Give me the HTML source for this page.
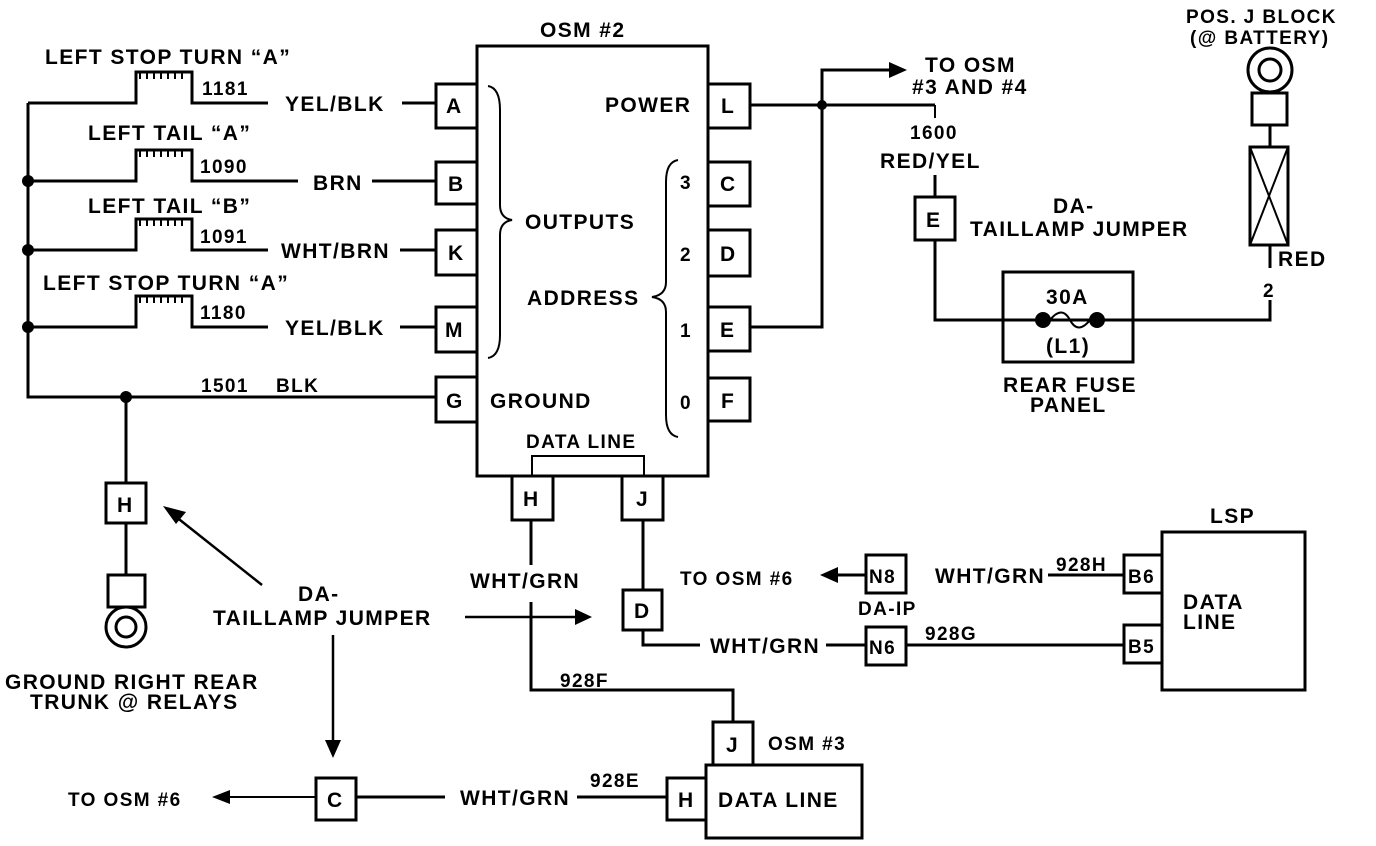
<!DOCTYPE html>
<html><head><style>
html,body{margin:0;padding:0;background:#fff;}
svg{display:block;}
text{font-family:"Liberation Sans",sans-serif;font-weight:bold;fill:#000;font-size:21px;letter-spacing:1.4px;}
.s{font-size:19px;letter-spacing:1.4px;}
</style></head><body>
<svg width="1376" height="846" viewBox="0 0 1376 846" xmlns="http://www.w3.org/2000/svg">
<g fill="none" stroke="#000" stroke-width="3">
<rect x="477" y="46" width="231" height="430"/>
<rect x="436" y="84" width="41" height="44"/>
<rect x="436" y="162" width="41" height="42"/>
<rect x="436" y="230" width="41" height="45"/>
<rect x="436" y="307" width="41" height="45"/>
<rect x="436" y="377" width="41" height="45"/>
<rect x="708" y="84" width="42" height="44"/>
<rect x="708" y="162" width="42" height="44"/>
<rect x="708" y="230" width="42" height="46"/>
<rect x="708" y="307" width="42" height="44"/>
<rect x="708" y="378" width="42" height="43"/>
<rect x="512" y="476" width="41" height="44"/>
<rect x="622" y="476" width="41" height="44"/>
<polyline points="532,476 532,456 644,456 644,476" stroke-width="2"/>
<path d="M488,86 Q500,88 500,110 L500,205 Q500,218 512,220 Q500,222 500,235 L500,335 Q500,356 488,358" stroke-width="2"/>
<path d="M678,160 Q666,162 666,182 L666,282 Q666,295 652,297 Q666,299 666,312 L666,415 Q666,435 678,437" stroke-width="2"/>
<polyline points="28,103 28,397 436,397"/>
<polyline points="28,103 136,103 136,72 192,72 192,103 268,103"/>
<line x1="402" y1="103" x2="436" y2="103"/>
<polyline points="28,181 136,181 136,150 192,150 192,181 298,181"/>
<line x1="372" y1="181" x2="436" y2="181"/>
<polyline points="28,250 136,250 136,219 192,219 192,250 268,250"/>
<line x1="400" y1="250" x2="436" y2="250"/>
<polyline points="28,327 136,327 136,296 192,296 192,327 268,327"/>
<line x1="400" y1="327" x2="436" y2="327"/>
</g>
<g fill="none" stroke="#000" stroke-width="2">
<path d="M140,72 v7 M147,72 v7 M154,72 v7 M161,72 v7 M168,72 v7 M175,72 v7 M182,72 v7"/>
<path d="M140,150 v7 M147,150 v7 M154,150 v7 M161,150 v7 M168,150 v7 M175,150 v7 M182,150 v7"/>
<path d="M140,219 v7 M147,219 v7 M154,219 v7 M161,219 v7 M168,219 v7 M175,219 v7 M182,219 v7"/>
<path d="M140,296 v7 M147,296 v7 M154,296 v7 M161,296 v7 M168,296 v7 M175,296 v7 M182,296 v7"/>
</g>
<g fill="#000">
<circle cx="28" cy="181" r="6"/><circle cx="28" cy="250" r="6"/><circle cx="28" cy="327" r="6"/>
<circle cx="126" cy="397" r="6"/><circle cx="822" cy="105" r="5"/>
<circle cx="1043" cy="320" r="8"/><circle cx="1097" cy="320" r="8"/>
</g>
<g fill="none" stroke="#000" stroke-width="3">
<line x1="126" y1="397" x2="126" y2="483"/>
<rect x="106" y="483" width="40" height="40"/>
<line x1="126" y1="523" x2="126" y2="575"/>
<rect x="108" y="575" width="37" height="32"/>
<circle cx="126" cy="627" r="20"/>
<circle cx="126" cy="627" r="10"/>
<line x1="262" y1="585" x2="175" y2="516" stroke-width="2.5"/>
<line x1="465" y1="617" x2="575" y2="617" stroke-width="2.5"/>
<line x1="333" y1="635" x2="333" y2="742" stroke-width="2.5"/>
<rect x="316" y="778" width="40" height="42"/>
<line x1="228" y1="797" x2="316" y2="797" stroke-width="2"/>
<line x1="356" y1="797" x2="445" y2="797"/>
<line x1="577" y1="797" x2="667" y2="797"/>
<rect x="667" y="778" width="39" height="42"/>
<rect x="706" y="765" width="156" height="73"/>
<rect x="713" y="722" width="40" height="43"/>
<polyline points="733,722 733,690 531,690 531,602"/>
<line x1="531" y1="520" x2="531" y2="565"/>
<line x1="643" y1="520" x2="643" y2="590"/>
<rect x="623" y="590" width="39" height="40"/>
<polyline points="643,630 643,645 700,645"/>
<line x1="826" y1="645" x2="866" y2="645"/>
<rect x="866" y="627" width="40" height="38"/>
<line x1="906" y1="645" x2="1124" y2="645"/>
<rect x="1124" y="625" width="38" height="38"/>
<rect x="1124" y="555" width="38" height="38"/>
<rect x="1162" y="532" width="143" height="158"/>
<line x1="1048" y1="575" x2="1124" y2="575"/>
<rect x="866" y="555" width="40" height="38"/>
<line x1="838" y1="575" x2="866" y2="575"/>
<line x1="750" y1="105" x2="935" y2="105"/>
<line x1="935" y1="105" x2="935" y2="118" stroke-width="2"/>
<polyline points="750,327 822,327 822,70 890,70"/>
<line x1="935" y1="175" x2="935" y2="197"/>
<rect x="915" y="197" width="40" height="43"/>
<polyline points="935,240 935,320 1270,320 1270,300"/>
<rect x="1003" y="272" width="130" height="90"/>
<path d="M1050,320 Q1062,305 1070,320 Q1078,335 1090,320" stroke-width="2"/>
<line x1="1270" y1="268" x2="1270" y2="245"/>
<rect x="1250" y="147" width="38" height="98"/>
<line x1="1250" y1="147" x2="1288" y2="245" stroke-width="2"/>
<line x1="1288" y1="147" x2="1250" y2="245" stroke-width="2"/>
<line x1="1270" y1="147" x2="1270" y2="125"/>
<rect x="1252" y="93" width="35" height="32"/>
<circle cx="1270" cy="70" r="22"/>
<circle cx="1270" cy="70" r="11"/>
</g>
<g fill="#000">
<polygon points="163,506 186,512 176,524"/>
<polygon points="592,617 575,609 575,625"/>
<polygon points="333,758 325,740 341,740"/>
<polygon points="212,797 230,790 230,804"/>
<polygon points="820,575 838,567 838,583"/>
<polygon points="907,70 889,62 889,78"/>
</g>
<text x="45" y="64">LEFT STOP TURN “A”</text>
<text x="202" y="95" class="s">1181</text>
<text x="285" y="111">YEL/BLK</text>
<text x="88" y="140">LEFT TAIL “A”</text>
<text x="200" y="173" class="s">1090</text>
<text x="313" y="190">BRN</text>
<text x="88" y="213">LEFT TAIL “B”</text>
<text x="200" y="243" class="s">1091</text>
<text x="281" y="258">WHT/BRN</text>
<text x="43" y="290">LEFT STOP TURN “A”</text>
<text x="200" y="319" class="s">1180</text>
<text x="285" y="335">YEL/BLK</text>
<text x="201" y="392" class="s">1501</text>
<text x="276" y="392" class="s">BLK</text>
<text x="540" y="37">OSM #2</text>
<text x="446" y="113">A</text><text x="448" y="191">B</text><text x="448" y="260">K</text><text x="445" y="337">M</text><text x="446" y="408">G</text>
<text x="721" y="113">L</text><text x="720" y="191">C</text><text x="720" y="261">D</text><text x="720" y="337">E</text><text x="721" y="408">F</text>
<text x="605" y="112">POWER</text>
<text x="525" y="229">OUTPUTS</text>
<text x="527" y="305">ADDRESS</text>
<text x="490" y="408">GROUND</text>
<text x="680" y="189" class="s">3</text><text x="680" y="261" class="s">2</text><text x="680" y="337" class="s">1</text><text x="680" y="409" class="s">0</text>
<text x="526" y="448" class="s">DATA LINE</text>
<text x="523" y="506">H</text><text x="636" y="506">J</text>
<text x="117" y="512">H</text>
<text x="5" y="689">GROUND RIGHT REAR</text>
<text x="30" y="709">TRUNK @ RELAYS</text>
<text x="298" y="601">DA-</text>
<text x="213" y="625">TAILLAMP JUMPER</text>
<text x="470" y="588">WHT/GRN</text>
<text x="634" y="618">D</text>
<text x="560" y="687" class="s">928F</text>
<text x="726" y="752">J</text>
<text x="768" y="750" class="s">OSM #3</text>
<text x="678" y="807">H</text>
<text x="718" y="807">DATA LINE</text>
<text x="590" y="787" class="s">928E</text>
<text x="460" y="805">WHT/GRN</text>
<text x="327" y="807">C</text>
<text x="68" y="806" class="s">TO OSM #6</text>
<text x="680" y="585" class="s">TO OSM #6</text>
<text x="869" y="583" class="s">N8</text>
<text x="935" y="583">WHT/GRN</text>
<text x="1056" y="571" class="s">928H</text>
<text x="1128" y="583" class="s">B6</text>
<text x="858" y="615" class="s">DA-IP</text>
<text x="710" y="653">WHT/GRN</text>
<text x="869" y="654" class="s">N6</text>
<text x="925" y="640" class="s">928G</text>
<text x="1128" y="653" class="s">B5</text>
<text x="1210" y="523">LSP</text>
<text x="1183" y="609">DATA</text>
<text x="1183" y="629">LINE</text>
<text x="925" y="72">TO OSM</text>
<text x="912" y="94">#3 AND #4</text>
<text x="910" y="139" class="s">1600</text>
<text x="880" y="168">RED/YEL</text>
<text x="926" y="227">E</text>
<text x="1053" y="213">DA-</text>
<text x="970" y="236">TAILLAMP JUMPER</text>
<text x="1046" y="304">30A</text>
<text x="1046" y="353">(L1)</text>
<text x="1003" y="392">REAR FUSE</text>
<text x="1030" y="412">PANEL</text>
<text x="1263" y="297" class="s">2</text>
<text x="1278" y="266">RED</text>
<text x="1186" y="23" class="s">POS. J BLOCK</text>
<text x="1190" y="44" class="s">(@ BATTERY)</text>
</svg>
</body></html>
